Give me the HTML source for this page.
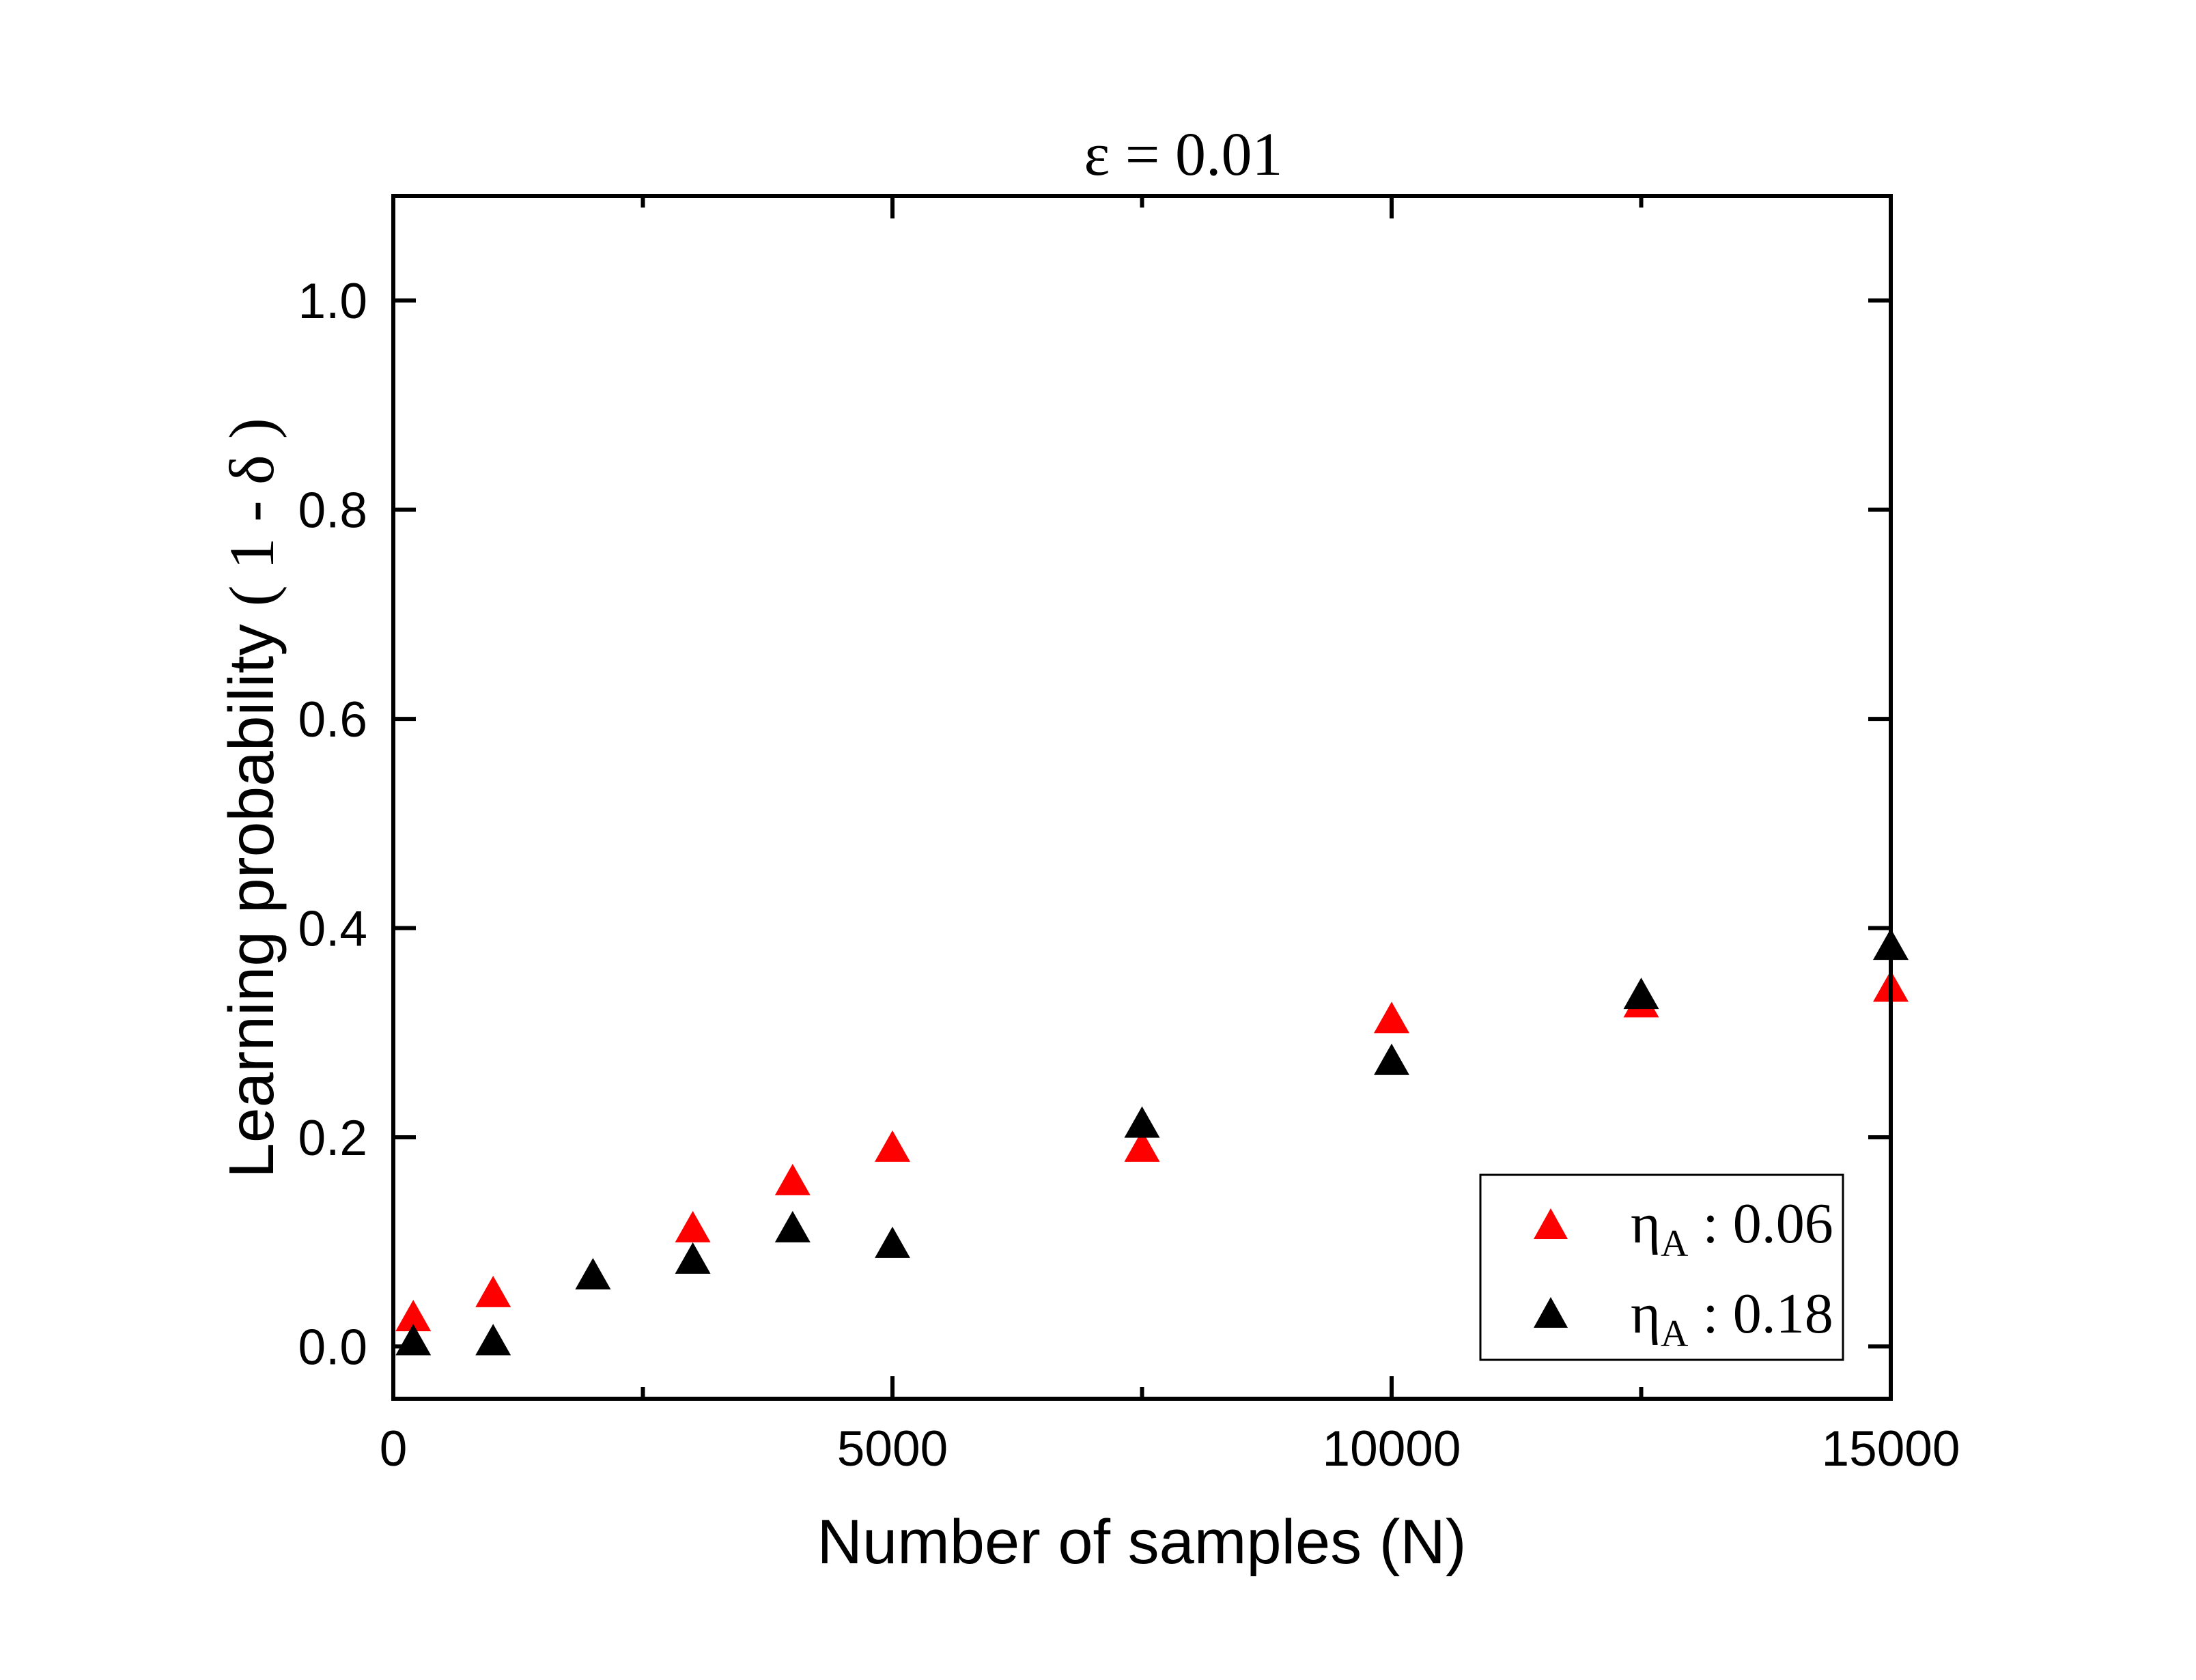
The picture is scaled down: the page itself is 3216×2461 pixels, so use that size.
<!DOCTYPE html>
<html><head><meta charset="utf-8"><style>
html,body{margin:0;padding:0;background:#fff;}
svg{display:block;}
</style></head><body>
<svg id="chart" width="3216" height="2461" viewBox="0 0 3216 2461" xmlns="http://www.w3.org/2000/svg">
<rect width="3216" height="2461" fill="#fff"/>
<g id="marks"></g>
<g id="axes"></g>
<text x="1733" y="256" font-family="Liberation Serif, serif" font-size="90" text-anchor="middle">ε = 0.01</text>
<text x="1672" y="2290" font-family="Liberation Sans, sans-serif" font-size="92" text-anchor="middle">Number of samples (N)</text>
<text transform="translate(400,1169) rotate(-90)" font-family="Liberation Sans, sans-serif" font-size="93" text-anchor="middle">Learning probability <tspan font-family="Liberation Serif, serif">( 1 - δ )</tspan></text>
<g>
<rect x="2168" y="1721" width="531" height="271" fill="#fff" stroke="#000" stroke-width="3"/>
<polygon points="2246,1815 2271,1770 2296,1815" fill="#ff0000"/>
<polygon points="2246,1945 2271,1900 2296,1945" fill="#000"/>
<text x="2388" y="1820" font-family="Liberation Serif, serif" font-size="84">η<tspan font-size="56" dy="20">A</tspan><tspan dy="-20"> : 0.06</tspan></text>
<text x="2388" y="1952" font-family="Liberation Serif, serif" font-size="84">η<tspan font-size="56" dy="20">A</tspan><tspan dy="-20"> : 0.18</tspan></text>
</g>
</svg>
<script>
const xRed = [200, 1000, 3000, 4000, 5000, 7500, 10000, 12500, 15000];
const yRed = [0.025, 0.048, 0.11, 0.155, 0.187, 0.187, 0.31, 0.325, 0.34];
const xBlack = [200, 1000, 2000, 3000, 4000, 5000, 7500, 10000, 12500, 15000];
const yBlack = [0.002, 0.002, 0.065, 0.08, 0.11, 0.095, 0.21, 0.27, 0.333, 0.38];
const xTicks = [0, 5000, 10000, 15000];
const xTickLabels = ["0", "5000", "10000", "15000"];
const xMinorTicks = [2500, 7500, 12500];
const yTicks = [0, 0.2, 0.4, 0.6, 0.8, 1.0];
const yTickLabels = ["0.0", "0.2", "0.4", "0.6", "0.8", "1.0"];

const L = 576, R = 2769, T = 287, B = 2049;
const xMin = 0, xMax = 15000, yMin = -0.05, yMax = 1.1;
function sx(v){ return L + (v - xMin) / (xMax - xMin) * (R - L); }
function sy(v){ return B - (v - yMin) / (yMax - yMin) * (B - T); }
const NS = "http://www.w3.org/2000/svg";
const marks = document.getElementById('marks');
const axes = document.getElementById('axes');
function tri(x, y, color){
  const p = document.createElementNS(NS, 'polygon');
  const cx = sx(x), cy = sy(y);
  p.setAttribute('points', (cx-26)+','+(cy+16)+' '+cx+','+(cy-30)+' '+(cx+26)+','+(cy+16));
  p.setAttribute('fill', color);
  return p;
}
xRed.forEach((x, i) => {
  const p = tri(x, yRed[i], '#ff0000');
  
  
  marks.appendChild(p);
});
xBlack.forEach((x, i) => {
  const p = tri(x, yBlack[i], '#000000');
  
  
  marks.appendChild(p);
});
function line(x1,y1,x2,y2,w){
  const l = document.createElementNS(NS, 'line');
  l.setAttribute('x1',x1);l.setAttribute('y1',y1);l.setAttribute('x2',x2);l.setAttribute('y2',y2);
  l.setAttribute('stroke','#000');l.setAttribute('stroke-width',w);
  return l;
}
function txt(x,y,s,anchor){
  const t = document.createElementNS(NS,'text');
  t.setAttribute('x',x);t.setAttribute('y',y);t.setAttribute('text-anchor',anchor);
  t.setAttribute('font-family','Liberation Sans, sans-serif');t.setAttribute('font-size','73');
  t.textContent = s; return t;
}
const frame = document.createElementNS(NS,'rect');
frame.setAttribute('x',L);frame.setAttribute('y',T);frame.setAttribute('width',R-L);frame.setAttribute('height',B-T);
frame.setAttribute('fill','none');frame.setAttribute('stroke','#000');frame.setAttribute('stroke-width','6');


axes.appendChild(frame);
xTicks.forEach((v, i) => {
  const a = line(sx(v), B, sx(v), B-33, 6);
  
  
  axes.appendChild(a);
  const b = line(sx(v), T, sx(v), T+33, 6);
  
  
  axes.appendChild(b);
  const t = txt(sx(v), B+98, xTickLabels[i], 'middle');
  
  
  axes.appendChild(t);
});
xMinorTicks.forEach(v => {
  const a = line(sx(v), B, sx(v), B-17, 6);
  
  
  axes.appendChild(a);
  const b = line(sx(v), T, sx(v), T+17, 6);
  
  
  axes.appendChild(b);
});
yTicks.forEach((v, i) => {
  const a = line(L, sy(v), L+33, sy(v), 6);
  
  
  axes.appendChild(a);
  const b = line(R, sy(v), R-33, sy(v), 6);
  
  
  axes.appendChild(b);
  const t = txt(L-38, sy(v)+26, yTickLabels[i], 'end');
  
  
  axes.appendChild(t);
});
</script>
</body></html>
